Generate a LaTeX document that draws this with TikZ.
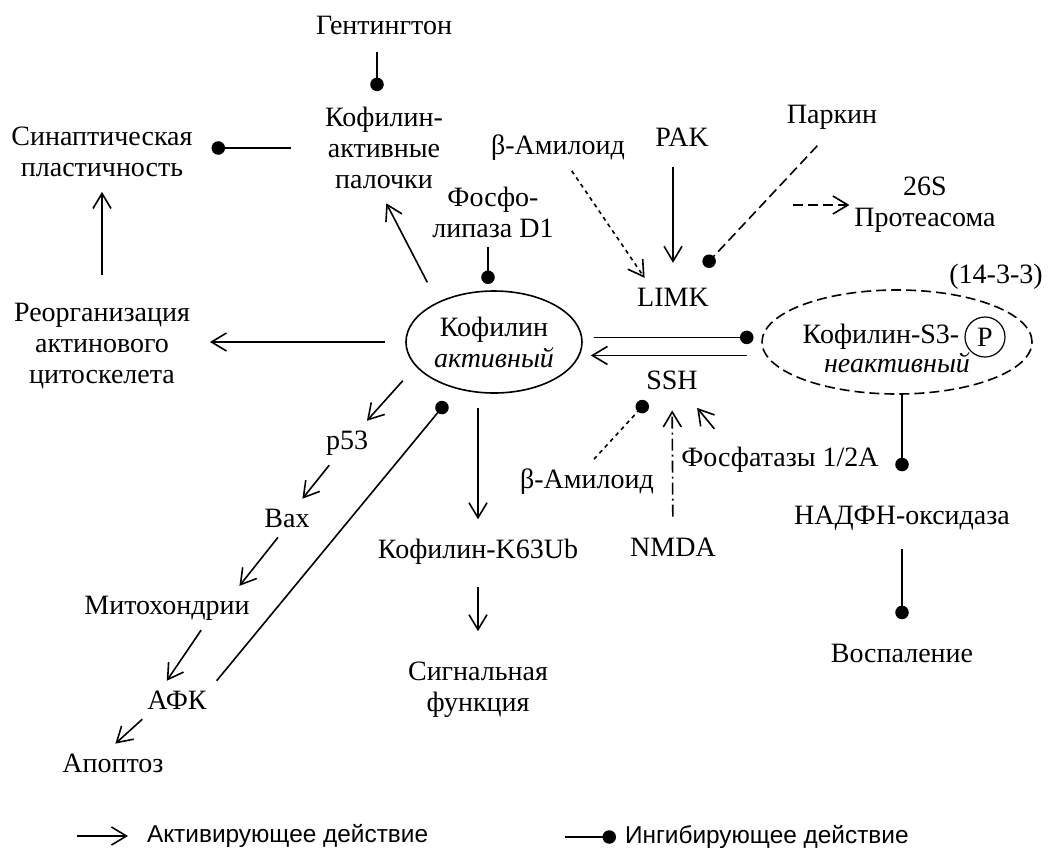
\documentclass[tikz,border=0pt]{standalone}
\usepackage{fontspec}
\setmainfont{Liberation Serif}
\newfontfamily\legendfont{Liberation Sans}
\usetikzlibrary{arrows.meta,shapes.geometric}

\begin{document}
\begin{tikzpicture}[x=1pt, y=-1pt, line width=1.6pt]
  \tikzset{txt/.style={inner sep=0pt, outer sep=10pt, align=center, font=\fontsize{28}{31}\selectfont}}
  \tikzset{cell/.style={ellipse, draw, inner sep=0pt, outer sep=0pt, align=center, font=\fontsize{28}{31}\selectfont}}
  \tikzset{key/.style={inner sep=0pt, outer sep=0pt, anchor=west, font=\legendfont\fontsize{24.4}{28}\selectfont}}
  \tikzset{act/.style={-{Straight Barb[length=15pt,width=18pt]}}}
  \tikzset{inh/.style={-{Circle[length=13.5pt]}}}
  \tikzset{dotline/.style={dash pattern=on 4pt off 4pt}}
  \tikzset{dashline/.style={dash pattern=on 10pt off 5pt}}
  \tikzset{dashdotline/.style={dash pattern=on 12pt off 4pt on 2pt off 4pt}}
  \useasboundingbox (0,0) rectangle (1051,847);

  \node[txt] (gent) at (384,25) {Гентингтон};
  \node[txt] (rods) at (384,148) {Кофилин-\\активные\\палочки};
  \node[txt] (syn) at (102,152) {Синаптическая\\пластичность};
  \node[txt] (reorg) at (102,346) {Реорганизация\\актинового\\цитоскелета};
  \node[txt] (pld) at (493,212) {Фосфо-\\липаза D1};
  \node[txt] (bam1) at (558,148) {β-Амилоид};
  \node[txt] (pak) at (682,137) {PAK};
  \node[txt] (park) at (832,117) {Паркин};
  \node[txt] (prot) at (925,205) {26S\\Протеасома};
  \node[txt] (limk) at (673,297) {LIMK};
  \node[cell, minimum width=176pt, minimum height=102pt] (kof) at (494,342) {Кофилин\\\textit{активный}};
  \node[cell, dashline, minimum width=270pt, minimum height=104pt] (pinact) at (897,342) {};
  \node[txt] (pinname) at (881,337) {Кофилин-S3-};
  \node[txt, circle, draw, line width=1.2pt, outer sep=0pt, minimum size=40pt] (pcirc) at (985,337) {P};
  \node[txt] (pinstate) at (897,363) {\textit{неактивный}};
  \node[txt] (p1433) at (996,277) {(14-3-3)};
  \node[txt] (ssh) at (672,380) {SSH};
  \node[txt] (bam2) at (587,482) {β-Амилоид};
  \node[txt] (phos) at (780,460) {Фосфатазы 1/2A};
  \node[txt] (nmda) at (673,547) {NMDA};
  \node[txt] (nadph) at (902,518) {НАДФН-оксидаза};
  \node[txt] (infl) at (902,653) {Воспаление};
  \node[txt] (k63) at (478,552) {Кофилин-K63Ub};
  \node[txt] (sig) at (478,690) {Сигнальная\\функция};
  \node[txt] (p53) at (347,443) {p53};
  \node[txt] (bax) at (287,518) {Bax};
  \node[txt] (mito) at (167,608) {Митохондрии};
  \node[txt] (afk) at (177,700) {АФК};
  \node[txt] (apo) at (113,763) {Апоптоз};

  \draw[inh, shorten <=8pt, shorten >=6pt] ([xshift=-7pt]gent.south) -- ([xshift=-7pt]rods.north);
  \draw[inh, shorten <=24pt, shorten >=9pt] (rods.west) -- (rods.west -| syn.east);
  \draw[act, shorten <=18pt, shorten >=5pt] (reorg.north) -- (syn.south);
  \draw[act, shorten <=21pt, shorten >=10pt] (kof.west) -- (kof.west -| reorg.east);
  \draw[act, shorten <=23pt, shorten >=5pt] (kof.145) -- (rods.south);
  \draw[inh, shorten >=7pt] ([xshift=-5pt]pld.south) -- ([xshift=-5pt]pld.south |- kof.north);
  \draw[act, dotline] (bam1.301) -- (limk.146);
  \draw[act, shorten <=11pt, shorten >=15pt] (pak.south -| limk) -- (limk);
  \draw[inh, dashline, shorten <=9pt, shorten >=16pt] (park.249) -- (limk.43);
  \coordinate (pbranch) at (793,205);
  \draw[act, dashline, shorten >=-5pt] (pbranch) -- (prot);
  \draw[inh, shorten <=12pt, shorten >=8.5pt] (kof.3) -- (kof.3 -| pinact.west);
  \draw[act, shorten <=15pt, shorten >=12pt] (kof.-9 -| pinact.west) -- (kof.-9);
  \draw[inh, dotline, shorten >=3pt] (bam2.73) -- (ssh.220);
  \draw[act, dashdotline, shorten <=11pt, shorten >=11pt] (nmda) -- (ssh);
  \draw[act, shorten <=11pt, shorten >=11pt] ([xshift=50pt]phos.north west) -- (ssh.313);
  \draw[inh, shorten >=24.5pt] (nadph |- pinact.south) -- (nadph);
  \draw[inh, shorten <=9pt, shorten >=14.5pt] (nadph) -- (infl);
  \draw[act, shorten <=15pt, shorten >=10pt] (k63 |- kof.south) -- (k63);
  \draw[act, shorten <=12pt, shorten >=21pt] (k63) -- (sig);
  \draw[act, shorten <=20pt] (kof.197) -- (p53);
  \draw[act] (p53) -- (bax);
  \draw[act] (bax.245) -- (mito.17);
  \draw[act] (mito.327) -- (afk.118);
  \draw[act] (afk.209) -- (apo.83);
  \draw[inh, shorten >=18pt] (afk.north east) -- (kof.232);

  % legend
  \node[key] (legact) at (147,836) {Активирующее действие};
  \node[key] (leginh) at (625,837) {Ингибирующее действие};
  \coordinate (legactstart) at (77,836);
  \coordinate (leginhstart) at (565,837);
  \draw[act, shorten >=19pt] (legactstart) -- (legact.west);
  \draw[inh, shorten >=9pt] (leginhstart) -- (leginh.west);
\end{tikzpicture}
\end{document}
